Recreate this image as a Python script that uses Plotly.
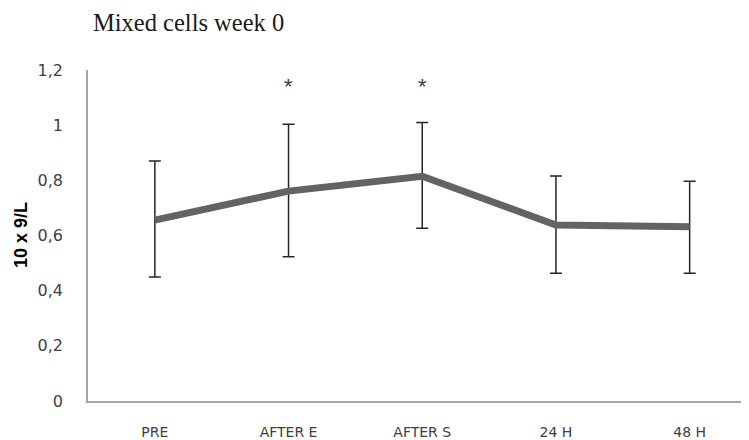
import plotly.graph_objects as go

categories = ["PRE", "AFTER E", "AFTER S", "24 H", "48 H"]
means = [0.656, 0.761, 0.815, 0.638, 0.632]
upper = [0.870, 1.003, 1.010, 0.816, 0.797]
lower = [0.450, 0.523, 0.626, 0.463, 0.463]
significant = ["AFTER E", "AFTER S"]
y_ticks = [0, 0.2, 0.4, 0.6, 0.8, 1.0, 1.2]
y_tick_labels = ["0", "0,2", "0,4", "0,6", "0,8", "1", "1,2"]

err_plus = [u - m for u, m in zip(upper, means)]
err_minus = [m - l for m, l in zip(means, lower)]

# page body has an 8px default margin, so offsets compensate for it
L, T, B = 80, 62, 47
plot_w = 749 - L

fig = go.Figure()
fig.add_trace(go.Scatter(
    x=categories, y=means, mode="lines",
    line=dict(color="#636363", width=7),
    error_y=dict(type="data", symmetric=False, array=err_plus, arrayminus=err_minus,
                 color="#262626", thickness=1.5, width=6),
    showlegend=False,
))

for c in significant:
    fig.add_annotation(x=c, y=1.14, text="*", showarrow=False,
                       font=dict(family="Liberation Sans", size=22, color="#3a3a3a"),
                       yanchor="middle")

fig.add_annotation(text="<b>10 x 9/L</b>", xref="paper", yref="paper",
                   x=-67.5/plot_w, y=0.5, xanchor="center", yanchor="middle",
                   textangle=-90, showarrow=False,
                   font=dict(family="Liberation Sans", size=18, color="#000000"))

fig.update_layout(
    width=749, height=440,
    margin=dict(l=L, r=0, t=T, b=B),
    paper_bgcolor="white", plot_bgcolor="white",
    title=dict(text="Mixed cells week 0", x=85/749, xref="container", xanchor="left",
               y=1 - 14/440, yref="container", yanchor="middle",
               font=dict(family="Liberation Serif", size=24.5, color="#1a1a1a")),
)
fig.update_xaxes(range=[-0.5, -0.5 + plot_w/133.7], showgrid=False, showline=True,
                 linecolor="#a6a6a6", linewidth=1.5, ticks="", ticklabelstandoff=17,
                 automargin=False,
                 tickfont=dict(family="DejaVu Sans", size=14, color="#404040"))
fig.update_yaxes(range=[0, 1.2], showgrid=False, showline=True, linecolor="#a6a6a6",
                 linewidth=1.5, ticks="", ticklabelstandoff=20, zeroline=False, automargin=False,
                 tickvals=y_ticks, ticktext=y_tick_labels,
                 tickfont=dict(family="DejaVu Sans", size=16, color="#404040"))

fig.write_html("out.html")
